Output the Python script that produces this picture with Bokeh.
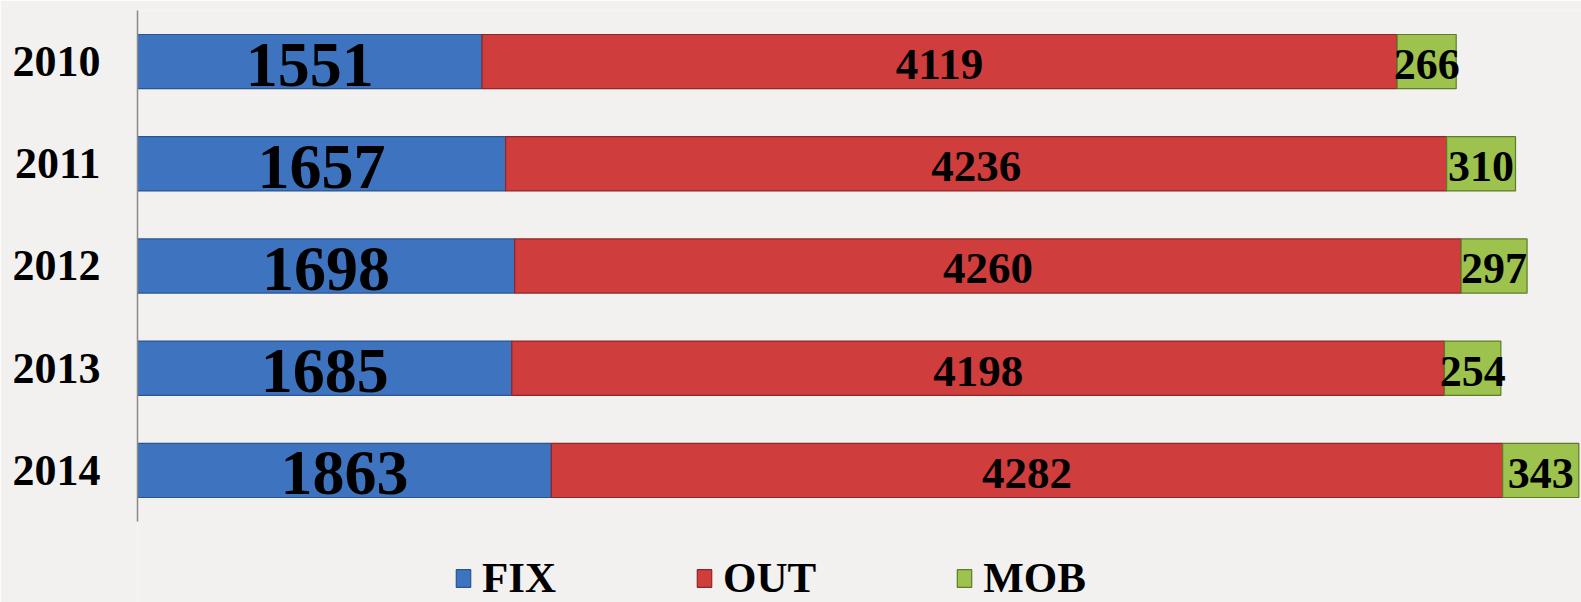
import numpy as np
from bokeh.plotting import figure
from bokeh.models import ColumnDataSource, Range1d, Legend, LegendItem, FixedTicker
from bokeh.core.properties import value
from bokeh.embed import file_html
from bokeh.resources import INLINE

years = ["2010", "2011", "2012", "2013", "2014"]
fix = [1551, 1657, 1698, 1685, 1863]
out = [4119, 4236, 4260, 4198, 4282]
mob = [266, 310, 297, 254, 343]
series_names = ["FIX", "OUT", "MOB"]

colors = ["#3e74bf", "#cf3d3d", "#9dc24e"]
outlines = ["#2a5590", "#8e2727", "#5c7c2a"]
label_sizes = ["64px", "45px", "44px"]
FONT = "Liberation Serif"
BG = "#f2f1ef"

n = len(years)
ypos = np.arange(n)[::-1].astype(float)  # 2010 at top

p = figure(width=1581, height=602, output_backend="svg", toolbar_location=None,
           y_range=Range1d(-1.2926, n - 0.5),
           x_range=Range1d(0, 6500),
           min_border_left=137, min_border_right=0, min_border_top=10, min_border_bottom=0)
p.background_fill_color = BG
p.border_fill_color = BG
p.outline_line_color = None
p.grid.visible = False
p.xaxis.visible = False

yax = p.yaxis[0]
yax.ticker = FixedTicker(ticks=list(ypos))
yax.major_label_overrides = {float(y): lab for y, lab in zip(ypos, years)}
yax.bounds = (-0.5, n - 0.5)
yax.axis_line_color = "#8a8a8a"
yax.axis_line_width = 1.5
yax.major_tick_line_color = None
yax.minor_tick_line_color = None
yax.major_tick_out = 0
yax.major_tick_in = 0
yax.major_label_standoff = 37
yax.major_label_text_font = FONT
yax.major_label_text_font_style = "bold"
yax.major_label_text_font_size = "44px"
yax.major_label_text_color = "black"

vals = np.array([fix, out, mob], dtype=float)
cum = np.cumsum(vals, axis=0)
lefts = np.vstack([np.zeros(n), cum[:-1]])

renderers = []
for i, name in enumerate(series_names):
    src = ColumnDataSource(dict(y=ypos, left=lefts[i], right=cum[i],
                                xc=(lefts[i] + cum[i]) / 2,
                                lab=[str(int(v)) for v in vals[i]]))
    r = p.hbar(y="y", left="left", right="right", height=0.53, source=src,
               fill_color=colors[i], line_color=outlines[i], line_width=1.2)
    renderers.append(r)
    p.text(x="xc", y="y", text="lab", source=src, text_align="center",
           text_baseline="middle", text_font=value(FONT), text_font_style="bold",
           text_font_size=label_sizes[i], text_color="black", y_offset=3)

legend = Legend(items=[LegendItem(label=nm, renderers=[r]) for nm, r in zip(series_names, renderers)],
                orientation="horizontal", location=(317, 0),
                label_text_font=FONT, label_text_font_style="bold",
                label_text_font_size="43px", label_text_color="black",
                glyph_width=18, glyph_height=22, label_standoff=10, spacing=139,
                padding=0, margin=0, border_line_alpha=0, background_fill_alpha=0)
p.add_layout(legend, "center")

open("out.html", "w").write(file_html(p, INLINE))
